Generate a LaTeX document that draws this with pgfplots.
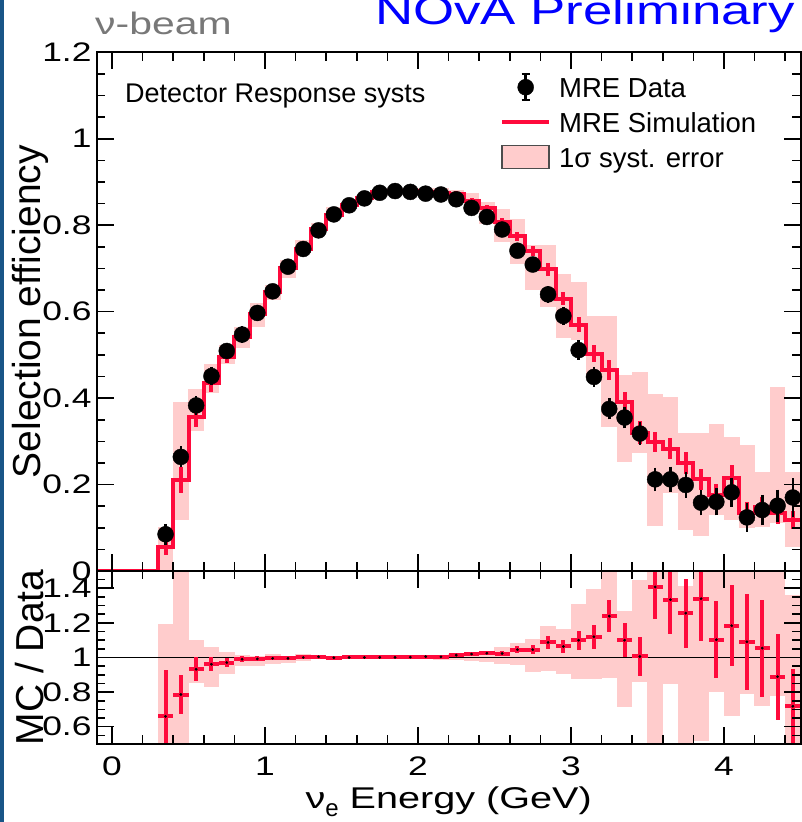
\documentclass[border=0pt]{standalone}
\usepackage{fontspec}
\setmainfont{Liberation Sans}
\newfontfamily\widefont{Liberation Sans}[FakeStretch=1.32]
\usepackage{pgfplots}
\usepackage{pgfplotstable}
\pgfplotsset{compat=1.18}
\definecolor{mcred}{RGB}{255,10,60}
\definecolor{band}{RGB}{255,204,204}
\definecolor{slide}{RGB}{25,85,135}
\definecolor{beamgray}{RGB}{120,120,120}

% bin centres: data, data error, MC, MC stat error, MC/Data, ratio error
\pgfplotstableread{
x data derr mc mcerr ratio rerr
0.35 0.085 0.015 0.056 0.020 0.660 0.270
0.45 0.264 0.015 0.210 0.030 0.786 0.110
0.55 0.383 0.012 0.357 0.025 0.932 0.070
0.65 0.451 0.012 0.435 0.020 0.961 0.040
0.75 0.509 0.010 0.496 0.015 0.971 0.025
0.85 0.547 0.010 0.542 0.012 0.990 0.018
0.95 0.597 0.009 0.594 0.010 0.992 0.015
1.05 0.647 0.008 0.645 0.008 0.995 0.012
1.15 0.704 0.008 0.700 0.008 0.995 0.010
1.25 0.745 0.007 0.746 0.007 1.000 0.010
1.35 0.788 0.007 0.791 0.007 1.004 0.009
1.45 0.825 0.006 0.824 0.006 0.999 0.008
1.55 0.846 0.006 0.846 0.006 1.000 0.008
1.65 0.862 0.006 0.862 0.006 1.000 0.007
1.75 0.875 0.006 0.876 0.006 1.001 0.007
1.85 0.879 0.006 0.880 0.006 1.001 0.007
1.95 0.877 0.006 0.879 0.006 1.002 0.007
2.05 0.873 0.006 0.877 0.006 1.005 0.007
2.15 0.871 0.006 0.874 0.006 1.004 0.008
2.25 0.860 0.006 0.872 0.006 1.014 0.008
2.35 0.840 0.007 0.857 0.007 1.020 0.010
2.45 0.819 0.007 0.839 0.007 1.025 0.012
2.55 0.790 0.008 0.808 0.008 1.023 0.015
2.65 0.741 0.008 0.774 0.010 1.045 0.020
2.75 0.709 0.009 0.741 0.012 1.045 0.025
2.85 0.640 0.010 0.698 0.015 1.087 0.039
2.95 0.590 0.012 0.630 0.015 1.064 0.037
3.05 0.511 0.013 0.570 0.018 1.100 0.056
3.15 0.449 0.014 0.503 0.020 1.120 0.070
3.25 0.375 0.015 0.465 0.022 1.239 0.092
3.35 0.355 0.016 0.391 0.022 1.100 0.099
3.45 0.318 0.017 0.320 0.027 1.006 0.112
3.55 0.212 0.018 0.298 0.023 1.408 0.185
3.65 0.212 0.020 0.283 0.025 1.334 0.198
3.75 0.199 0.020 0.250 0.025 1.256 0.200
3.85 0.158 0.020 0.212 0.025 1.340 0.243
3.95 0.160 0.022 0.176 0.025 1.103 0.224
4.05 0.182 0.024 0.216 0.030 1.184 0.233
4.15 0.124 0.024 0.134 0.025 1.091 0.276
4.25 0.141 0.026 0.147 0.025 1.054 0.280
4.35 0.151 0.028 0.134 0.025 0.889 0.248
4.45 0.170 0.035 0.118 0.020 0.718 0.218
}\points

% bin low edges: MC histogram, syst band (main), syst band (ratio)
\pgfplotstableread{
x mc blo bhi rlo rhi
-0.1 0 0 0 1 1
0.3 0.056 0.000 0.102 0.40 1.196
0.4 0.210 0.118 0.391 0.40 1.600
0.5 0.357 0.324 0.420 0.854 1.100
0.6 0.435 0.411 0.479 0.829 1.058
0.7 0.496 0.480 0.523 0.903 1.029
0.8 0.542 0.516 0.565 0.951 1.015
0.9 0.594 0.565 0.619 0.950 1.010
1.0 0.645 0.627 0.661 0.960 1.020
1.1 0.700 0.677 0.719 0.970 1.010
1.2 0.746 0.735 0.765 0.980 1.020
1.3 0.791 0.784 0.804 0.990 1.010
1.4 0.824 0.818 0.841 0.990 1.010
1.5 0.846 0.839 0.853 0.994 1.006
1.6 0.862 0.856 0.868 0.994 1.006
1.7 0.876 0.870 0.882 0.994 1.006
1.8 0.880 0.874 0.886 0.994 1.006
1.9 0.879 0.872 0.886 0.994 1.008
2.0 0.877 0.868 0.886 0.994 1.014
2.1 0.874 0.862 0.887 0.986 1.017
2.2 0.872 0.859 0.881 0.983 1.023
2.3 0.857 0.842 0.875 0.979 1.033
2.4 0.839 0.802 0.854 0.975 1.039
2.5 0.808 0.761 0.838 0.965 1.058
2.6 0.774 0.710 0.815 0.955 1.085
2.7 0.741 0.650 0.754 0.915 1.107
2.8 0.698 0.611 0.754 0.922 1.180
2.9 0.630 0.538 0.687 0.903 1.165
3.0 0.570 0.534 0.669 0.874 1.310
3.1 0.503 0.449 0.590 0.878 1.394
3.2 0.465 0.334 0.590 0.883 1.600
3.3 0.391 0.253 0.453 0.713 1.266
3.4 0.320 0.274 0.461 0.858 1.447
3.5 0.298 0.104 0.409 0.400 1.600
3.6 0.283 0.181 0.402 0.849 1.600
3.7 0.250 0.095 0.320 0.400 1.414
3.8 0.212 0.081 0.320 0.515 1.600
3.9 0.176 0.129 0.339 0.800 1.600
4.0 0.216 0.119 0.309 0.660 1.600
4.1 0.134 0.099 0.291 0.790 1.600
4.2 0.147 0.102 0.230 0.718 1.600
4.3 0.134 0.110 0.426 0.780 1.600
4.4 0.118 0.056 0.230 0.400 1.360
4.5 0.118 0.056 0.230 0.400 1.360
}\edges

\pgfplotsset{
  rootstyle/.style={
    scale only axis, width=703.8pt,
    xmin=-0.1, xmax=4.5,
    axis on top,
    axis line style={line width=2pt},
    every tick/.style={black, line width=1.6pt},
    major tick length=17pt, minor tick length=8.5pt,
    xtick={0,1,2,3,4},
    minor xtick={0.2,0.4,0.6,0.8,1.2,1.4,1.6,1.8,2.2,2.4,2.6,2.8,3.2,3.4,3.6,3.8,4.2,4.4},
    tick label style={font=\widefont\fontsize{26.8}{30}\selectfont, inner sep=0pt},
    yticklabel style={anchor=east, xshift=-5pt},
    xticklabel style={anchor=north, yshift=-12.7pt},
    ylabel style={at={(axis description cs:-0.0948,0.5)}, anchor=center, inner sep=0pt,
                  font=\fontsize{39}{45}\selectfont},
  },
  bandbars/.style={draw=none, mark=none, forget plot,
    error bars/.cd, y dir=both, y explicit, error mark=none,
    error bar style={draw=band, line width=15.7pt, line cap=butt}},
}

\begin{document}
\begin{tikzpicture}
\path (0pt,0pt) rectangle (801pt,822pt);
\fill[slide] (0pt,0pt) rectangle (4pt,822pt);

\node[anchor=base west, inner sep=0pt, text=beamgray, font=\widefont\fontsize{31}{36}\selectfont] at (95pt,787pt) {ν-beam};
\node[overlay, anchor=base east, inner sep=0pt, text={rgb,255:red,0;green,0;blue,255}, font=\widefont\fontsize{40}{48}\selectfont] at (795pt,797pt) {NOvA Preliminary};

% ---------------- main panel ----------------
\begin{axis}[rootstyle,
  at={(96.7pt,251pt)}, anchor=south west, height=518.7pt,
  ymin=0, ymax=1.2,
  xticklabels={},
  ytick={0,0.2,0.4,0.6,0.8,1,1.2},
  yticklabels={0,0.2,0.4,0.6,0.8,1,1.2},
  minor y tick num=3,
  ylabel={Selection efficiency},
  legend cell align=left,
  legend style={at={(0.573,0.9668)}, anchor=north west, draw=none, fill=none,
    inner sep=0pt, column sep=0pt, row sep=0pt,
    font=\fontsize{27.5}{33}\selectfont,
    nodes={inner sep=0pt, text height=20pt, text depth=0pt}},
]
% systematic band: one filled rectangle per bin, from blo to bhi
\addplot[bandbars] table[x expr=\thisrow{x}+0.05, y expr=(\thisrow{blo}+\thisrow{bhi})/2,
  y error expr=(\thisrow{bhi}-\thisrow{blo})/2] {\edges};

\addplot[mcred, line width=4pt, const plot, line join=miter, forget plot] table[x=x, y=mc] {\edges};
\addplot[draw=none, mark=none, forget plot,
  error bars/.cd, y dir=both, y explicit, error mark=none,
  error bar style={draw=mcred, line width=4pt}] table[x=x, y=mc, y error=mcerr] {\points};
\addplot[only marks, mark=*, mark size=8pt, black, forget plot,
  error bars/.cd, y dir=both, y explicit,
  error mark options={black, line width=2.5pt, mark size=4pt},
  error bar style={line width=2.5pt, black}] table[x=x, y=data, y error=derr] {\points};

\addlegendimage{legend image code/.code={
  \path[draw=none, fill=none] (0pt,-17.5pt) rectangle (57pt,17.5pt);
  \draw[black, line width=2.5pt] (23.5pt,-13pt) -- (23.5pt,13pt);
  \draw[black, line width=2.5pt] (19.5pt,-13pt) -- (27.5pt,-13pt) (19.5pt,13pt) -- (27.5pt,13pt);
  \fill[black] (23.5pt,0pt) circle (8pt);
}}
\addlegendentry{MRE Data}
\addlegendimage{legend image code/.code={
  \path[draw=none, fill=none] (0pt,-17.5pt) rectangle (57pt,17.5pt);
  \draw[mcred, line width=4pt] (0pt,0pt) -- (47pt,0pt);
}}
\addlegendentry{MRE Simulation}
\addlegendimage{legend image code/.code={
  \path[draw=none, fill=none] (0pt,-17.5pt) rectangle (57pt,17.5pt);
  \draw[fill=band, draw=black!70, line width=1.5pt] (0pt,-11.5pt) rectangle (47pt,11.5pt);
}}
\addlegendentry{1σ syst. error}

\node[anchor=base west, inner sep=0pt, font=\fontsize{27}{32}\selectfont] at (rel axis cs:0.0402,0.9023) {Detector Response systs};
\end{axis}

% ---------------- ratio panel ----------------
\begin{axis}[rootstyle,
  at={(96.7pt,78pt)}, anchor=south west, height=173pt,
  ymin=0.5, ymax=1.5,
  xticklabels={0,1,2,3,4},
  ytick={0.6,0.8,1,1.2,1.4},
  yticklabels={0.6,0.8,1,1.2,1.4},
  minor ytick={0.55,0.65,0.7,0.75,0.85,0.9,0.95,1.05,1.1,1.15,1.25,1.3,1.35,1.45},
  ylabel={MC / Data},
  xlabel={ν\raisebox{-7.5pt}{\normalfont\fontsize{24}{24}\selectfont e} Energy (GeV)},
  xlabel style={at={(axis description cs:0.7038,-0.3757)}, anchor=base east, inner sep=0pt,
                font=\widefont\fontsize{30}{36}\selectfont},
]
\addplot[bandbars] table[x expr=\thisrow{x}+0.05, y expr=(\thisrow{rlo}+\thisrow{rhi})/2,
  y error expr=(\thisrow{rhi}-\thisrow{rlo})/2] {\edges};
\addplot[black, line width=1pt, forget plot] coordinates {(-0.1,1) (4.5,1)};
\addplot[only marks, mark=*, mark size=1.2pt, black, forget plot,
  error bars/.cd, x dir=both, x fixed=0.05, y dir=both, y explicit, error mark=none,
  error bar style={line width=4pt, mcred}] table[x=x, y=ratio, y error=rerr] {\points};
\end{axis}
\end{tikzpicture}
\end{document}
